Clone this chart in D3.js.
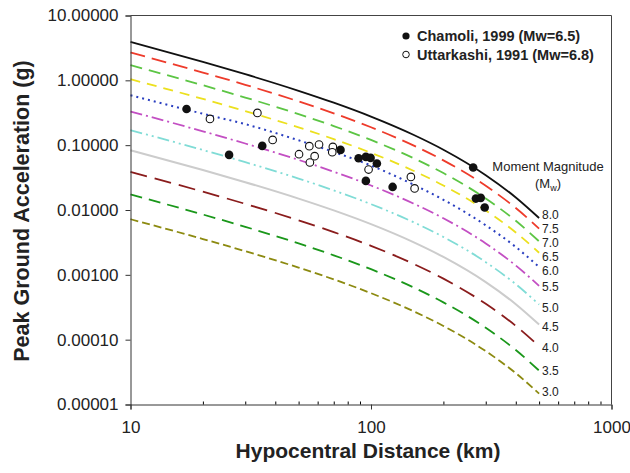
<!DOCTYPE html>
<html>
<head>
<meta charset="utf-8">
<script src="https://cdn.jsdelivr.net/npm/d3@7"></script>
<style>
  body { margin: 0; background: #fff; }
  svg { font-family: "Liberation Sans", Arial, Helvetica, sans-serif; }
</style>
</head>
<body>
<div id="chart"></div>
<script>
// distances (km) at which each attenuation curve was read
const distances = [10, 20, 30, 50, 70, 100, 150, 200, 300, 400, 500];

// PGA (g) per moment magnitude
const magnitudes = ["8.0", "7.5", "7.0", "6.5", "6.0", "5.5", "5.0", "4.5", "4.0", "3.5", "3.0"];
const pgaM80 = [3.917, 1.925, 1.244, 0.6902, 0.452, 0.2758, 0.1447, 0.08504, 0.03445, 0.01562, 0.007525];
const pgaM75 = [2.685, 1.319, 0.8525, 0.4731, 0.3098, 0.189, 0.09921, 0.05829, 0.02361, 0.01071, 0.005158];
const pgaM70 = [1.71, 0.8403, 0.5429, 0.3013, 0.1973, 0.1204, 0.06318, 0.03712, 0.01504, 0.006818, 0.003285];
const pgaM65 = [1.04, 0.5166, 0.3359, 0.1881, 0.124, 0.07619, 0.04037, 0.02391, 0.009819, 0.004505, 0.002194];
const pgaM60 = [0.59, 0.305, 0.211, 0.1188, 0.0786, 0.0485, 0.0247, 0.01437, 0.005812, 0.002686, 0.001317];
const pgaM55 = [0.3304, 0.1635, 0.1061, 0.05924, 0.03895, 0.02389, 0.01262, 0.007454, 0.003047, 0.001392, 0.0006757];
const pgaM50 = [0.1702, 0.08423, 0.05467, 0.03052, 0.02007, 0.01231, 0.0065, 0.00384, 0.001569, 0.000717, 0.000348];
const pgaM45 = [0.08356, 0.04135, 0.02684, 0.01498, 0.009851, 0.006041, 0.003191, 0.001885, 0.0007705, 0.000352, 0.0001709];
const pgaM40 = [0.03873, 0.01917, 0.01244, 0.006944, 0.004566, 0.0028, 0.001479, 0.0008737, 0.0003571, 0.0001632, 0.0000792];
const pgaM35 = [0.01734, 0.008521, 0.005505, 0.003055, 0.002001, 0.001221, 0.0006407, 0.0003764, 0.0001525, 0.00006913, 0.00003331];
const pgaM30 = [0.007211, 0.003569, 0.002316, 0.001293, 0.0008502, 0.0005214, 0.0002754, 0.0001627, 0.0000665, 0.00003038, 0.00001475];

// recorded data
const chamoliDist = [17.1, 25.7, 35.3, 74.7, 88.8, 95.2, 99.6, 105.8, 95.2, 123, 266, 273, 286, 297];
const chamoliPga = [0.362, 0.0708, 0.0974, 0.0845, 0.063, 0.066, 0.0636, 0.0521, 0.0281, 0.0227, 0.0452, 0.015, 0.0154, 0.0109];
const uttarkashiDist = [21.4, 33.7, 39.0, 50.2, 55.4, 60.8, 69.4, 69.0, 58.3, 55.7, 97.7, 146.5, 151.8];
const uttarkashiPga = [0.254, 0.314, 0.1206, 0.0725, 0.0964, 0.1024, 0.094, 0.0778, 0.0676, 0.054, 0.0421, 0.0324, 0.0215];

const yTicks = [0.00001, 0.0001, 0.001, 0.01, 0.1, 1, 10];
const xTicks = [10, 100, 1000];
const xMinor = [20, 30, 40, 50, 60, 70, 80, 90, 200, 300, 400, 500, 600, 700, 800, 900];

const curves = [pgaM80, pgaM75, pgaM70, pgaM65, pgaM60, pgaM55, pgaM50, pgaM45, pgaM40, pgaM35, pgaM30];

// line look for each magnitude, same order as magnitudes
const styles = [
    { color: "#111111", dash: null, w: 1.8 },
    { color: "#ee3b2b", dash: "15,7", w: 1.8 },
    { color: "#5cc544", dash: "12,7", w: 1.8 },
    { color: "#ece01e", dash: "10,7", w: 1.8 },
    { color: "#2a3fc0", dash: "2,4", w: 2 },
    { color: "#c34fc3", dash: "12,4,2,4", w: 1.8 },
    { color: "#80dcd6", dash: "12,4,2,4,2,4", w: 1.8 },
    { color: "#cccccc", dash: null, w: 2 },
    { color: "#8a1c1c", dash: "17,8", w: 1.8 },
    { color: "#1a971a", dash: "12,7", w: 1.8 },
    { color: "#8c8a10", dash: "8,4", w: 1.8 }
];
// small vertical nudges (px) so the end labels sit apart like the original
const labelNudge = [-3, 0.4, 1.7, 4.3, 3.9, 1, 3, 2.5, 1.5, 0, -1.5];

const width = 630, height = 473;
const plot = { left: 130.5, right: 611.5, top: 15.5, bottom: 404.5 };

const svg = d3.select("#chart").append("svg")
    .attr("width", width)
    .attr("height", height);

const x = d3.scaleLog().domain([10, 1000]).range([plot.left, plot.right]);
const y = d3.scaleLog().domain([0.00001, 10]).range([plot.bottom, plot.top]);

// frame (top and right)
svg.append("path")
    .attr("d", `M${plot.left},${plot.top}H${plot.right}V${plot.bottom}`)
    .attr("fill", "none")
    .attr("stroke", "#444")
    .attr("stroke-width", 1);

// curves
const line = d3.line()
    .x(d => x(d[0]))
    .y(d => y(d[1]))
    .curve(d3.curveMonotoneX);

const curveGroup = svg.append("g");
curves.forEach((vals, i) => {
    const pts = distances.map((d, j) => [d, vals[j]]);
    const st = styles[i];
    curveGroup.append("path")
        .attr("d", line(pts))
        .attr("fill", "none")
        .attr("stroke", st.color)
        .attr("stroke-width", st.w)
        .attr("stroke-dasharray", st.dash);
    curveGroup.append("text")
        .attr("x", x(distances[distances.length - 1]) + 3)
        .attr("y", y(vals[vals.length - 1]) + labelNudge[i])
        .attr("dy", "0.35em")
        .attr("font-size", 12)
        .attr("fill", "#222")
        .text(magnitudes[i]);
});

// axes
const yAxis = d3.axisLeft(y)
    .tickValues(yTicks)
    .tickFormat(d3.format(".5f"))
    .tickSize(5)
    .tickPadding(7);

const gy = svg.append("g")
    .attr("transform", `translate(${plot.left},0)`)
    .call(yAxis);

const xAxis = d3.axisBottom(x)
    .tickValues(xTicks)
    .tickFormat(d3.format("d"))
    .tickSize(5)
    .tickPadding(11);

const gx = svg.append("g")
    .attr("transform", `translate(0,${plot.bottom})`)
    .call(xAxis);

svg.append("g")
    .attr("transform", `translate(0,${plot.bottom})`)
    .call(d3.axisBottom(x).tickValues(xMinor).tickFormat("").tickSizeInner(-3).tickSizeOuter(0))
    .select(".domain").remove();

[gx, gy].forEach(g => {
    g.selectAll("text").attr("font-size", 17).attr("fill", "#222")
        .attr("font-family", "'Liberation Sans', Arial, sans-serif");
    g.selectAll("path, line").attr("stroke", "#333");
});

// recorded points
svg.append("g").selectAll("circle")
    .data(uttarkashiDist.map((d, i) => [d, uttarkashiPga[i]]))
    .join("circle")
    .attr("cx", d => x(d[0]))
    .attr("cy", d => y(d[1]))
    .attr("r", 3.8)
    .attr("fill", "#fff")
    .attr("stroke", "#111")
    .attr("stroke-width", 1.1);

svg.append("g").selectAll("circle")
    .data(chamoliDist.map((d, i) => [d, chamoliPga[i]]))
    .join("circle")
    .attr("cx", d => x(d[0]))
    .attr("cy", d => y(d[1]))
    .attr("r", 4.3)
    .attr("fill", "#111");

// legend
const legend = svg.append("g").attr("font-size", 14.5).attr("font-weight", "bold").attr("fill", "#222");
legend.append("circle").attr("cx", 406).attr("cy", 36).attr("r", 3.6).attr("fill", "#111");
legend.append("text").attr("x", 417).attr("y", 41).text("Chamoli, 1999 (Mw=6.5)");
legend.append("circle").attr("cx", 406).attr("cy", 54.5).attr("r", 3.3).attr("fill", "#fff").attr("stroke", "#111");
legend.append("text").attr("x", 417).attr("y", 59.5).text("Uttarkashi, 1991 (Mw=6.8)");

// curve family label
svg.append("text")
    .attr("x", 548).attr("y", 171)
    .attr("text-anchor", "middle")
    .attr("font-size", 13).attr("fill", "#222")
    .text("Moment Magnitude");
const mw = svg.append("text")
    .attr("x", 548).attr("y", 188)
    .attr("text-anchor", "middle")
    .attr("font-size", 13).attr("fill", "#222");
mw.append("tspan").text("(M");
mw.append("tspan").attr("font-size", 9).attr("dy", 3).text("w");
mw.append("tspan").attr("dy", -3).text(")");

// axis titles
svg.append("text")
    .attr("x", 368).attr("y", 458)
    .attr("text-anchor", "middle")
    .attr("font-size", 21).attr("font-weight", "bold").attr("fill", "#222")
    .text("Hypocentral Distance (km)");

svg.append("text")
    .attr("transform", "translate(29,211) rotate(-90)")
    .attr("text-anchor", "middle")
    .attr("font-size", 21.5).attr("font-weight", "bold").attr("fill", "#222")
    .text("Peak Ground Acceleration (g)");
</script>
</body>
</html>
